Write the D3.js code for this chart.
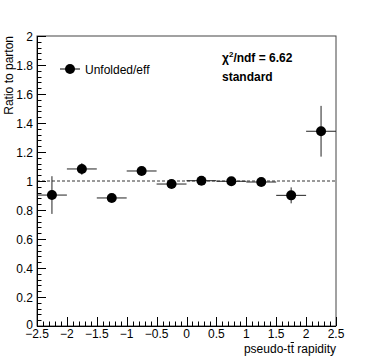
<!DOCTYPE html>
<html><head><meta charset="utf-8">
<script src="https://cdn.jsdelivr.net/npm/d3@7"></script>
<style>body{margin:0;background:#fff}svg{display:block}text{font-family:"Liberation Sans",Arial,sans-serif}</style>
</head><body><svg id="c" width="374" height="363"></svg>
<script>
const binCenters = [-2.25,-1.75,-1.25,-0.75,-0.25,0.25,0.75,1.25,1.75,2.25];
const binHalfWidth = [0.25,0.25,0.25,0.25,0.25,0.25,0.25,0.25,0.25,0.25];
const ratio = [0.903,1.083,0.883,1.069,0.979,1.002,0.998,0.993,0.901,1.343];
const ratioErr = [0.13,0.04,0.01,0.012,0.012,0.01,0.01,0.01,0.055,0.175];
const xTicks = [-2.5,-2,-1.5,-1,-0.5,0,0.5,1,1.5,2,2.5];
const yTicks = [0,0.2,0.4,0.6,0.8,1,1.2,1.4,1.6,1.8,2];

const svg = d3.select("#c");
const L=37,R=336,T=36,B=326;
const x = d3.scaleLinear().domain([-2.5,2.5]).range([L,R]);
const y = d3.scaleLinear().domain([0,2]).range([B,T]);

// frame
svg.append("rect").attr("x",L).attr("y",T).attr("width",R-L).attr("height",B-T)
  .attr("fill","none").attr("stroke","#444").attr("stroke-width",1);

// minor/major ticks
const g = svg.append("g").attr("stroke","#000").attr("stroke-width",1);
d3.range(-2.5,2.5001,0.1).forEach(v=>{
  const major = Math.abs(v*2-Math.round(v*2))<1e-6;
  const px = Math.round(x(v))+0.5;
  g.append("line").attr("x1",px).attr("x2",px).attr("y1",B).attr("y2",B-(major?9:4.5));
});
d3.range(0,2.0001,0.04).forEach(v=>{
  const major = Math.abs(v*5-Math.round(v*5))<1e-6;
  const py = Math.round(y(v))+0.5;
  g.append("line").attr("x1",L).attr("x2",L+(major?9:4.5)).attr("y1",py).attr("y2",py);
});
svg.append("line").attr("x1",L).attr("x2",R).attr("y1",B+0.5).attr("y2",B+0.5).attr("stroke","#000");
svg.append("line").attr("x1",L+0.5).attr("x2",L+0.5).attr("y1",T).attr("y2",B).attr("stroke","#000");

const fmt = v => (v<0?"\u2212":"")+Math.abs(v);
svg.selectAll(".xt").data(xTicks).enter().append("text")
  .attr("x",d=>x(d)).attr("y",B+12).attr("text-anchor","middle")
  .attr("font-size",12).text(fmt);
svg.selectAll(".yt").data(yTicks).enter().append("text")
  .attr("x",L-4).attr("y",(d,i)=>y(d)+4.5-(i===0?2:0)).attr("text-anchor","end")
  .attr("font-size",12).text(d=>d);

// axis titles
const xt = svg.append("text").attr("x",R).attr("y",353).attr("text-anchor","end").attr("font-size",12)
  .text("pseudo-tt rapidity");
{
  const n = xt.node();
  const s = n.getStartPositionOfChar(8), e = n.getEndPositionOfChar(8);
  svg.append("line").attr("x1",s.x).attr("x2",e.x).attr("y1",342.5).attr("y2",342.5)
    .attr("stroke","#000").attr("stroke-width",1);
}
svg.append("text").attr("transform",`translate(13,${T}) rotate(-90)`).attr("text-anchor","end")
  .attr("font-size",12).text("Ratio to parton");

// reference line at 1
svg.append("line").attr("x1",L).attr("x2",R).attr("y1",y(1)).attr("y2",y(1))
  .attr("stroke","#000").attr("stroke-width",0.8).attr("stroke-dasharray","3,2");

// error bars
const eg = svg.append("g").attr("stroke","#222").attr("stroke-width",1);
binCenters.forEach((c,i)=>{
  eg.append("line").attr("x1",x(c-binHalfWidth[i])).attr("x2",x(c+binHalfWidth[i]))
    .attr("y1",y(ratio[i])).attr("y2",y(ratio[i]));
  eg.append("line").attr("x1",x(c)).attr("x2",x(c))
    .attr("y1",y(ratio[i]+ratioErr[i])).attr("y2",y(ratio[i]-ratioErr[i]));
});
svg.selectAll(".pt").data(binCenters).enter().append("circle")
  .attr("cx",d=>x(d)).attr("cy",(d,i)=>y(ratio[i])).attr("r",5).attr("fill","#000");

// legend
svg.append("line").attr("x1",60).attr("x2",80).attr("y1",69).attr("y2",69).attr("stroke","#000");
svg.append("circle").attr("cx",70).attr("cy",69).attr("r",5).attr("fill","#000");
svg.append("text").attr("x",85).attr("y",73.5).attr("font-size",12).text("Unfolded/eff");

svg.append("text").attr("x",222).attr("y",62).attr("font-size",12).attr("font-weight","bold")
  .html('\u03c7<tspan dy="-5" font-size="8">2</tspan><tspan dy="5">/ndf = 6.62</tspan>');
svg.append("text").attr("x",222).attr("y",81).attr("font-size",12).attr("font-weight","bold").text("standard");
</script></body></html>
